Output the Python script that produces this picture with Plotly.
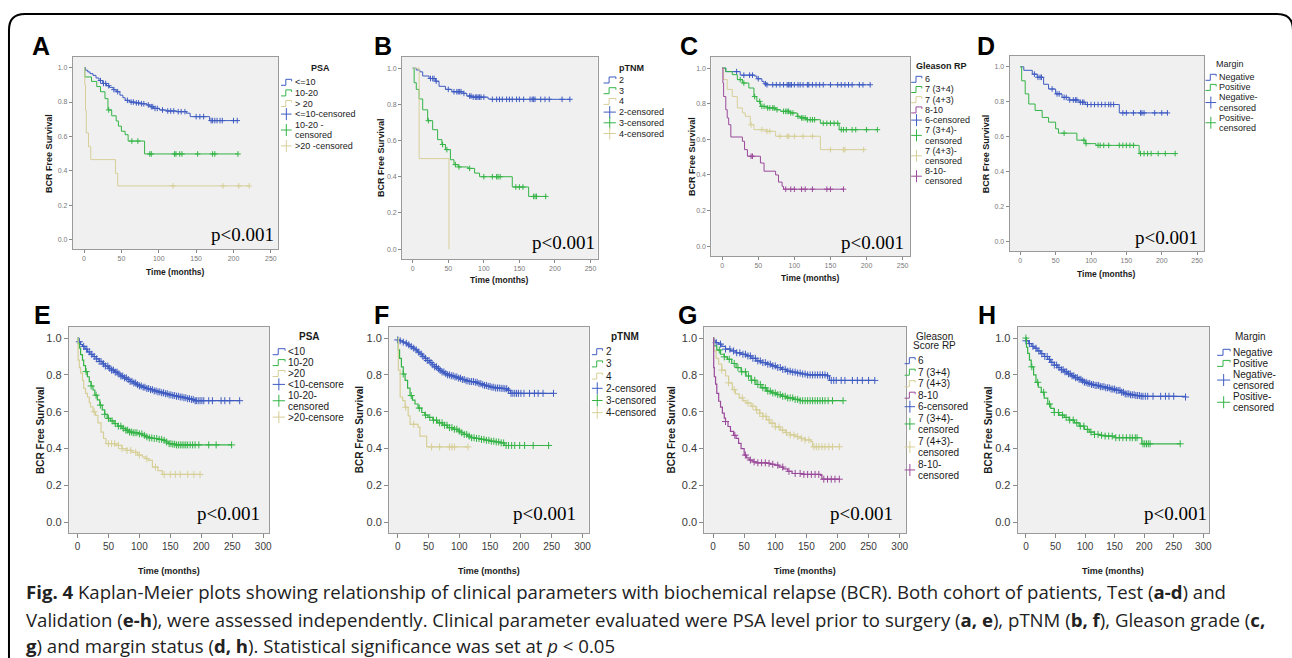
import plotly.graph_objects as go

W, H = 1292, 658

# ================= DATA =================
# ---- A: Test cohort, PSA ----
A_le10_t = [0, 2, 5, 8, 12, 16, 20, 25, 30, 34, 39, 43, 48, 52, 55, 61, 68, 75, 84, 88, 93, 101, 110, 124, 137, 142, 168, 205]
A_le10_s = [1.0, .985, .975, .965, .955, .94, .925, .908, .895, .885, .872, .86, .84, .825, .81, .80, .795, .79, .783, .773, .763, .754, .748, .744, .735, .715, .692, .692]
A_le10_c = [22, 26, 29, 33, 40, 45, 58, 63, 66, 70, 73, 77, 80, 86, 90, 92, 95, 98, 105, 112, 116, 120, 126, 130, 135, 150, 155, 160, 170, 172, 175, 178, 182, 185, 200, 205]
A_1020_t = [0, 1, 10, 17, 22, 28, 32, 37, 43, 46, 50, 55, 59, 81, 206]
A_1020_s = [1.0, .946, .92, .89, .86, .82, .754, .72, .69, .66, .63, .61, .573, .498, .498]
A_1020_c = [33, 64, 72, 88, 90, 121, 123, 128, 131, 152, 172, 175, 206]
A_gt20_t = [0, 1, 2, 3, 6, 9, 42, 45, 221]
A_gt20_s = [1.0, .90, .75, .62, .54, .465, .385, .312, .312]
A_gt20_c = [119, 186, 207, 221]

# ---- B: Test cohort, pTNM ----
B_2_t = [0, 5, 10, 14, 23, 32, 37, 46, 55, 71, 76, 83, 106, 110, 221]
B_2_s = [1.0, .99, .98, .957, .943, .928, .90, .883, .87, .861, .846, .84, .83, .828, .828]
B_2_c = [25, 28, 30, 33, 50, 58, 62, 64, 66, 68, 72, 80, 82, 85, 88, 90, 92, 94, 96, 100, 112, 118, 122, 126, 132, 136, 140, 146, 150, 156, 165, 168, 170, 172, 180, 186, 192, 210, 221]
B_3_t = [0, 2, 5, 9, 14, 21, 28, 35, 41, 46, 53, 58, 64, 78, 87, 94, 140, 163, 187]
B_3_s = [1.0, .92, .883, .83, .77, .71, .66, .605, .578, .55, .494, .467, .454, .446, .42, .40, .343, .291, .291]
B_3_c = [22, 42, 48, 60, 65, 80, 100, 112, 118, 120, 123, 145, 150, 155, 170, 172, 174, 187]
B_4_t = [0, 9, 51]
B_4_s = [1.0, .50, 0.0]
B_4_c = []

# ---- C: Test cohort, Gleason RP ----
C_6_t = [0, 5, 25, 45, 48, 55, 58, 62, 205]
C_6_s = [1.0, .98, .96, .955, .94, .925, .912, .906, .906]
C_6_c = [20, 30, 38, 42, 50, 60, 62, 70, 75, 80, 85, 90, 92, 94, 96, 100, 105, 108, 112, 118, 120, 125, 130, 135, 140, 150, 160, 165, 170, 175, 180, 190, 195, 205]
C_34_t = [0, 5, 14, 21, 28, 37, 44, 48, 53, 62, 74, 81, 94, 104, 108, 117, 136, 162, 215]
C_34_s = [1.0, .98, .963, .935, .916, .888, .84, .813, .785, .776, .766, .757, .748, .729, .72, .71, .69, .654, .654]
C_34_c = [25, 30, 45, 52, 55, 58, 63, 66, 70, 72, 76, 85, 88, 90, 92, 95, 98, 105, 110, 112, 115, 118, 122, 125, 128, 140, 145, 150, 155, 160, 165, 168, 172, 180, 185, 200, 215]
C_43_t = [0, 2, 7, 14, 21, 28, 32, 39, 44, 62, 74, 136, 196]
C_43_s = [1.0, .935, .88, .84, .776, .748, .729, .682, .654, .645, .617, .542, .542]
C_43_c = [40, 55, 62, 66, 80, 90, 92, 100, 112, 125, 150, 168, 170, 196]
C_810_t = [0, 1, 2, 5, 7, 9, 12, 28, 31, 35, 53, 58, 74, 78, 83, 85, 168]
C_810_s = [1.0, .916, .84, .766, .72, .682, .613, .589, .542, .505, .467, .421, .40, .36, .336, .32, .32]
C_810_c = [40, 42, 88, 95, 100, 110, 115, 125, 145, 150, 168]

# ---- D: Test cohort, Margin ----
D_neg_t = [0, 5, 17, 24, 33, 40, 50, 59, 69, 83, 92, 140, 208]
D_neg_s = [1.0, .98, .958, .94, .90, .873, .845, .825, .81, .797, .784, .736, .736]
D_neg_c = [20, 25, 28, 30, 45, 52, 55, 62, 65, 70, 75, 78, 80, 85, 88, 90, 95, 100, 105, 110, 115, 120, 125, 128, 132, 145, 150, 160, 170, 172, 175, 190, 200, 208]
D_pos_t = [0, 2, 7, 12, 21, 31, 40, 50, 54, 80, 92, 107, 168, 219]
D_pos_s = [1.0, .92, .845, .787, .75, .71, .683, .645, .62, .58, .56, .55, .503, .503]
D_pos_c = [62, 90, 93, 110, 113, 118, 125, 140, 145, 150, 155, 160, 170, 175, 180, 185, 195, 205, 219]

# ---- E: Validation cohort, PSA ----
E_lt10_t = [0, 2, 5, 8, 12, 16, 20, 25, 30, 35, 40, 45, 50, 55, 60, 65, 70, 75, 80, 85, 90, 95, 100, 106, 112, 118, 124, 130, 136, 142, 148, 154, 160, 166, 172, 178, 183, 188, 262]
E_lt10_s = [1.0, .98, .965, .955, .94, .925, .912, .90, .887, .873, .86, .848, .836, .826, .815, .805, .794, .784, .775, .765, .756, .747, .74, .733, .726, .72, .713, .708, .703, .698, .692, .688, .684, .68, .676, .671, .667, .66, .66]
E_lt10_c = [3, 10, 15, 19, 23, 27, 31, 35, 38, 42, 45, 49, 52, 55, 58, 61, 64, 67, 70, 73, 76, 79, 82, 85, 88, 91, 94, 97, 100, 103, 106, 109, 112, 115, 118, 121, 124, 127, 130, 133, 136, 139, 142, 145, 148, 151, 154, 157, 160, 163, 166, 169, 172, 175, 178, 181, 184, 187, 190, 192, 195, 198, 201, 204, 212, 218, 232, 238, 246, 262]
E_1020_t = [0, 1, 3, 5, 8, 10, 13, 16, 19, 22, 25, 28, 32, 36, 40, 44, 48, 53, 59, 65, 72, 78, 83, 90, 99, 105, 110, 116, 121, 130, 137, 143, 147, 152, 158, 249]
E_1020_s = [1.0, .97, .945, .91, .88, .85, .818, .79, .764, .74, .718, .69, .664, .636, .61, .586, .564, .55, .536, .522, .51, .50, .49, .486, .48, .472, .464, .458, .455, .45, .445, .436, .427, .424, .42, .42]
E_1020_c = [14, 22, 30, 37, 44, 50, 56, 61, 66, 70, 74, 78, 81, 84, 87, 90, 93, 96, 100, 104, 108, 112, 116, 120, 124, 128, 132, 136, 140, 144, 148, 151, 154, 157, 160, 163, 166, 169, 172, 175, 178, 182, 186, 190, 196, 212, 224, 249]
E_gt20_t = [0, 1, 3, 5, 8, 10, 13, 16, 19, 21, 25, 29, 33, 38, 42, 46, 62, 72, 80, 88, 97, 105, 110, 115, 121, 130, 137, 198]
E_gt20_s = [1.0, .88, .84, .81, .77, .727, .70, .68, .65, .627, .60, .58, .54, .49, .455, .427, .418, .40, .39, .38, .365, .355, .345, .336, .30, .28, .26, .26]
E_gt20_c = [27, 50, 55, 60, 66, 72, 80, 86, 94, 100, 112, 126, 140, 150, 158, 166, 178, 188, 198]

# ---- F: Validation cohort, pTNM ----
F_2_t = [0, 4, 8, 12, 16, 20, 24, 28, 32, 36, 40, 44, 48, 52, 56, 60, 64, 68, 72, 76, 80, 86, 92, 98, 104, 110, 116, 124, 130, 136, 140, 146, 152, 158, 166, 172, 178, 180, 183, 253]
F_2_s = [.99, .985, .978, .972, .963, .954, .945, .936, .924, .913, .901, .89, .878, .867, .855, .844, .834, .825, .816, .807, .80, .795, .789, .782, .775, .768, .764, .76, .753, .747, .743, .738, .733, .729, .727, .725, .72, .716, .70, .70]
F_2_c = [0, 4, 9, 14, 18, 22, 26, 30, 34, 38, 41, 45, 48, 51, 54, 57, 60, 63, 66, 69, 72, 75, 78, 81, 84, 87, 90, 93, 96, 99, 102, 105, 108, 111, 114, 117, 120, 123, 126, 129, 132, 135, 138, 141, 144, 147, 150, 153, 156, 159, 162, 165, 168, 171, 174, 177, 180, 184, 187, 190, 193, 196, 200, 205, 214, 222, 228, 236, 253]
F_3_t = [0, 1, 3, 6, 9, 12, 16, 20, 24, 28, 33, 39, 44, 49, 57, 65, 73, 81, 90, 98, 103, 108, 113, 119, 127, 135, 143, 151, 159, 167, 173, 245]
F_3_s = [1.0, .936, .89, .844, .805, .77, .728, .688, .663, .642, .62, .596, .582, .569, .554, .54, .527, .514, .505, .495, .486, .477, .468, .459, .455, .45, .445, .44, .436, .431, .417, .417]
F_3_c = [9, 22, 35, 45, 52, 58, 63, 68, 72, 76, 80, 84, 88, 92, 96, 100, 104, 108, 112, 116, 120, 124, 128, 132, 136, 140, 144, 148, 152, 156, 160, 164, 168, 172, 176, 180, 185, 190, 198, 206, 220, 245]
F_4_t = [0, 1, 4, 8, 12, 17, 20, 33, 36, 47, 114]
F_4_s = [1.0, .826, .68, .66, .624, .578, .532, .517, .468, .409, .409]
F_4_c = [13, 26, 55, 68, 84, 88, 92, 114]

# ---- G: Validation cohort, Gleason Score RP ----
G_6_t = [0, 1, 5, 9, 14, 20, 28, 37, 45, 53, 61, 69, 77, 86, 94, 102, 110, 118, 126, 135, 143, 151, 184, 187, 260]
G_6_s = [1.0, .985, .975, .967, .955, .94, .93, .92, .912, .903, .89, .876, .867, .858, .849, .84, .83, .82, .815, .81, .805, .80, .795, .77, .77]
G_6_c = [5, 12, 20, 27, 33, 38, 43, 48, 52, 56, 60, 64, 68, 72, 76, 80, 84, 88, 92, 96, 100, 104, 108, 112, 116, 120, 124, 128, 132, 136, 140, 144, 148, 152, 156, 160, 164, 168, 172, 176, 180, 184, 190, 194, 198, 206, 212, 224, 232, 240, 250, 260]
G_34_t = [0, 1, 6, 12, 18, 23, 30, 37, 45, 53, 61, 69, 77, 86, 94, 102, 110, 118, 129, 140, 209]
G_34_s = [1.0, .958, .935, .912, .898, .885, .862, .84, .817, .794, .771, .748, .73, .712, .702, .693, .684, .675, .667, .66, .66]
G_34_c = [10, 18, 26, 34, 40, 46, 52, 57, 62, 67, 72, 76, 80, 84, 88, 92, 96, 100, 104, 108, 112, 116, 120, 124, 128, 132, 136, 140, 144, 148, 152, 156, 160, 164, 168, 172, 176, 180, 185, 192, 209]
G_43_t = [0, 1, 5, 9, 14, 20, 25, 31, 36, 42, 48, 53, 61, 69, 75, 80, 86, 91, 100, 108, 116, 124, 132, 140, 148, 157, 160, 203]
G_43_s = [1.0, .93, .89, .858, .826, .794, .757, .72, .697, .675, .66, .648, .63, .61, .592, .575, .556, .538, .518, .50, .487, .474, .465, .456, .447, .438, .41, .41]
G_43_c = [14, 25, 34, 47, 56, 64, 70, 75, 80, 85, 90, 95, 100, 106, 112, 118, 124, 130, 136, 142, 148, 154, 162, 166, 170, 175, 180, 186, 192, 203]
G_810_t = [0, 1, 2, 4, 6, 9, 12, 15, 18, 20, 24, 28, 33, 37, 41, 45, 50, 54, 58, 64, 69, 86, 92, 99, 106, 113, 120, 127, 146, 173, 175, 203]
G_810_s = [1.0, .84, .79, .75, .70, .657, .625, .593, .565, .547, .52, .493, .472, .456, .428, .40, .365, .35, .338, .328, .323, .32, .315, .31, .30, .29, .277, .265, .26, .255, .234, .234]
G_810_c = [20, 35, 52, 60, 66, 72, 78, 84, 90, 96, 104, 112, 122, 132, 140, 146, 152, 158, 164, 170, 178, 184, 190, 196, 203]

# ---- H: Validation cohort, Margin ----
H_neg_t = [0, 5, 10, 14, 19, 25, 31, 37, 42, 48, 54, 60, 65, 71, 77, 82, 88, 94, 99, 105, 111, 116, 125, 134, 142, 151, 160, 168, 176, 185, 195, 270]
H_neg_s = [.985, .97, .955, .945, .93, .915, .90, .884, .868, .853, .84, .828, .817, .806, .795, .785, .776, .768, .76, .754, .748, .743, .736, .73, .723, .716, .706, .697, .692, .688, .684, .68]
H_neg_c = [0, 6, 12, 17, 22, 27, 32, 36, 40, 44, 48, 52, 56, 60, 63, 66, 69, 72, 75, 78, 81, 84, 87, 90, 93, 96, 99, 102, 105, 108, 111, 114, 117, 120, 123, 126, 129, 132, 135, 138, 141, 144, 147, 150, 153, 156, 159, 162, 165, 168, 171, 174, 177, 180, 183, 186, 189, 192, 195, 198, 202, 206, 215, 228, 236, 242, 250, 270]
H_pos_t = [0, 1, 3, 6, 9, 13, 17, 21, 26, 31, 37, 42, 48, 56, 65, 73, 82, 90, 99, 107, 116, 125, 134, 151, 193, 196, 261]
H_pos_s = [1.0, .95, .917, .88, .844, .80, .76, .733, .706, .674, .642, .618, .596, .582, .569, .555, .54, .522, .504, .49, .477, .472, .468, .459, .459, .426, .426]
H_pos_c = [0, 10, 20, 30, 40, 48, 55, 62, 68, 74, 80, 86, 92, 98, 104, 110, 116, 122, 128, 134, 140, 146, 152, 158, 164, 170, 176, 180, 185, 188, 198, 201, 204, 207, 210, 261]

X_TICKS_TOP = [0, 50, 100, 150, 200, 250]
X_TICKS_BOT = [0, 50, 100, 150, 200, 250, 300]
Y_TICKS = [0.0, 0.2, 0.4, 0.6, 0.8, 1.0]

# ================= STYLE / LAYOUT =================
BLUE, GREEN, BEIGE, PURPLE = '#3F5CC2', '#34B446', '#D6CF98', '#9A4A9A'
SANS = 'Arial, Liberation Sans, sans-serif'
SERIF = 'Times New Roman, Liberation Serif, serif'


def fx(x):
    return x / W


def fy(y):
    return 1 - y / H


def step_at(ts, ss, c):
    val = ss[0]
    for t, s in zip(ts, ss):
        if t <= c:
            val = s
    return val


panels = [
    dict(letter='A', lpos=(30, 46), box=(73, 279, 57, 249), row=0, xt=272, yt=49, p=(277, 234),
         curves=[(A_le10_t, A_le10_s, A_le10_c, BLUE), (A_1020_t, A_1020_s, A_1020_c, GREEN), (A_gt20_t, A_gt20_s, A_gt20_c, BEIGE)],
         ltitle=[('<b>PSA</b>', 321.7, 68.3)], lstart=82.3, lstep=10.6, gx=281.7, tx=293.3,
         entries=[(['&lt;=10'], 'l', BLUE), (['10-20'], 'l', GREEN), (['&gt; 20'], 'l', BEIGE),
                  (['&lt;=10-censored'], 'c', BLUE), (['10-20 -', 'censored'], 'c', GREEN), (['&gt;20 -censored'], 'c', BEIGE)]),
    dict(letter='B', lpos=(373, 46), box=(403, 599, 57, 259), row=0, xt=280, yt=382, p=(598, 243),
         curves=[(B_2_t, B_2_s, B_2_c, BLUE), (B_3_t, B_3_s, B_3_c, GREEN), (B_4_t, B_4_s, B_4_c, BEIGE)],
         ltitle=[('<b>pTNM</b>', 633.3, 68.3)], lstart=80, lstep=10.7, gx=605, tx=618.3,
         entries=[(['2'], 'l', BLUE), (['3'], 'l', GREEN), (['4'], 'l', BEIGE),
                  (['2-censored'], 'c', BLUE), (['3-censored'], 'c', GREEN), (['4-censored'], 'c', BEIGE)]),
    dict(letter='C', lpos=(680, 46), box=(713, 912, 57, 256), row=0, xt=278, yt=693, p=(908, 243),
         curves=[(C_6_t, C_6_s, C_6_c, BLUE), (C_34_t, C_34_s, C_34_c, GREEN), (C_43_t, C_43_s, C_43_c, BEIGE), (C_810_t, C_810_s, C_810_c, PURPLE)],
         ltitle=[('<b>Gleason RP</b>', 943.3, 65.7)], lstart=79.3, lstep=10.2, gx=913.3, tx=925,
         entries=[(['6'], 'l', BLUE), (['7 (3+4)'], 'l', GREEN), (['7 (4+3)'], 'l', BEIGE), (['8-10'], 'l', PURPLE),
                  (['6-censored'], 'c', BLUE), (['7 (3+4)-', 'censored'], 'c', GREEN), (['7 (4+3)-', 'censored'], 'c', BEIGE),
                  (['8-10-', 'censored'], 'c', PURPLE)]),
    dict(letter='D', lpos=(977, 46), box=(1012, 1207, 56, 251), row=0, xt=274, yt=988, p=(1203, 238),
         curves=[(D_neg_t, D_neg_s, D_neg_c, BLUE), (D_pos_t, D_pos_s, D_pos_c, GREEN)],
         ltitle=[('Margin', 1233.3, 64)], lstart=77.3, lstep=10.1, gx=1208.3, tx=1220,
         entries=[(['Negative'], 'l', BLUE), (['Positive'], 'l', GREEN),
                  (['Negative-', 'censored'], 'c', BLUE), (['Positive-', 'censored'], 'c', GREEN)]),
    dict(letter='E', lpos=(32, 315), box=(69, 270, 327, 533), row=1, xt=571, yt=40, p=(263, 513),
         curves=[(E_lt10_t, E_lt10_s, E_lt10_c, BLUE), (E_1020_t, E_1020_s, E_1020_c, GREEN), (E_gt20_t, E_gt20_s, E_gt20_c, BEIGE)],
         ltitle=[('<b>PSA</b>', 310, 336.7)], lstart=351.7, lstep=10.9, gx=273.3, tx=286.7,
         entries=[(['&lt;10'], 'l', BLUE), (['10-20'], 'l', GREEN), (['&gt;20'], 'l', BEIGE),
                  (['&lt;10-censore'], 'c', BLUE), (['10-20-', 'censored'], 'c', GREEN), (['&gt;20-censore'], 'c', BEIGE)]),
    dict(letter='F', lpos=(373, 315), box=(390, 590, 327, 533), row=1, xt=571, yt=360, p=(579, 513),
         curves=[(F_2_t, F_2_s, F_2_c, BLUE), (F_3_t, F_3_s, F_3_c, GREEN), (F_4_t, F_4_s, F_4_c, BEIGE)],
         ltitle=[('<b>pTNM</b>', 626.7, 336.7)], lstart=351.7, lstep=12.2, gx=593.3, tx=605,
         entries=[(['2'], 'l', BLUE), (['3'], 'l', GREEN), (['4'], 'l', BEIGE),
                  (['2-censored'], 'c', BLUE), (['3-censored'], 'c', GREEN), (['4-censored'], 'c', BEIGE)]),
    dict(letter='G', lpos=(678, 315), box=(706, 908, 327, 533), row=1, xt=571, yt=673, p=(897, 513),
         curves=[(G_6_t, G_6_s, G_6_c, BLUE), (G_34_t, G_34_s, G_34_c, GREEN), (G_43_t, G_43_s, G_43_c, BEIGE), (G_810_t, G_810_s, G_810_c, PURPLE)],
         ltitle=[('Gleason', 936.7, 336), ('Score RP', 936.7, 345.7)], lstart=360.7, lstep=11.5, gx=906.7, tx=918.3,
         entries=[(['6'], 'l', BLUE), (['7 (3+4)'], 'l', GREEN), (['7 (4+3)'], 'l', BEIGE), (['8-10'], 'l', PURPLE),
                  (['6-censored'], 'c', BLUE), (['7 (3+4)-', 'censored'], 'c', GREEN), (['7 (4+3)-', 'censored'], 'c', BEIGE),
                  (['8-10-', 'censored'], 'c', PURPLE)]),
    dict(letter='H', lpos=(978, 315), box=(1020, 1212, 327, 533), row=1, xt=571, yt=990, p=(1212, 513),
         curves=[(H_neg_t, H_neg_s, H_neg_c, BLUE), (H_pos_t, H_pos_s, H_pos_c, GREEN)],
         ltitle=[('Margin', 1253.3, 336.7)], lstart=352.3, lstep=11.1, gx=1220, tx=1234,
         entries=[(['Negative'], 'l', BLUE), (['Positive'], 'l', GREEN),
                  (['Negative-', 'censored'], 'c', BLUE), (['Positive-', 'censored'], 'c', GREEN)]),
]

fig = go.Figure()
annotations = []
shapes = []
layout_axes = {}

for i, pn in enumerate(panels, 1):
    xs = 'x' if i == 1 else f'x{i}'
    ys = 'y' if i == 1 else f'y{i}'
    top = pn['row'] == 0
    lw = 1.0 if top else 1.2
    msize = 4 if top else 5
    for ts, ss, cs, col in pn['curves']:
        fig.add_trace(go.Scatter(x=ts, y=ss, mode='lines', line=dict(color=col, width=lw, shape='hv'),
                                 xaxis=xs, yaxis=ys, showlegend=False, hoverinfo='skip'))
        if cs:
            fig.add_trace(go.Scatter(x=cs, y=[step_at(ts, ss, c) for c in cs], mode='markers',
                                     marker=dict(symbol='cross-thin', size=msize, line=dict(color=col, width=1)),
                                     xaxis=xs, yaxis=ys, showlegend=False, hoverinfo='skip'))
    x0, x1, y0, y1 = pn['box']
    tickc = '#7a7a7a' if top else '#3a3a3a'
    xk = 'xaxis' if i == 1 else f'xaxis{i}'
    yk = 'yaxis' if i == 1 else f'yaxis{i}'
    layout_axes[xk] = dict(domain=[fx(x0), fx(x1)], anchor=ys,
                           range=[-15, 260] if top else [-14, 310],
                           tickvals=X_TICKS_TOP if top else X_TICKS_BOT,
                           tickfont=dict(family=SANS, size=7 if top else 10, color=tickc),
                           ticks='outside', ticklen=3 if top else 4, tickcolor='#8a8a8a',
                           showline=True, mirror=True, linecolor='#9a9a9a', linewidth=1,
                           showgrid=False, zeroline=False, fixedrange=True)
    layout_axes[yk] = dict(domain=[fy(y1), fy(y0)], anchor=xs,
                           range=[-0.055, 1.062] if top else [-0.058, 1.06],
                           tickvals=Y_TICKS, tickformat='.1f',
                           tickfont=dict(family=SANS, size=7 if top else 11, color=tickc),
                           ticks='outside', ticklen=3 if top else 4, tickcolor='#8a8a8a',
                           showline=True, mirror=True, linecolor='#9a9a9a', linewidth=1,
                           showgrid=False, zeroline=False, fixedrange=True)

    # panel letter
    annotations.append(dict(text=f'<b>{pn["letter"]}</b>', x=fx(pn['lpos'][0]), y=fy(pn['lpos'][1]),
                            xref='paper', yref='paper', xanchor='left', yanchor='middle', showarrow=False,
                            font=dict(family=SANS, size=25, color='black')))
    # axis titles
    annotations.append(dict(text='<b>BCR Free Survival</b>', x=fx(pn['yt']), y=fy((y0 + y1) / 2),
                            xref='paper', yref='paper', textangle=-90, xanchor='center', yanchor='middle',
                            showarrow=False, font=dict(family=SANS, size=9 if top else 10, color='#1a1a1a')))
    annotations.append(dict(text='<b>Time (months)</b>', x=fx((x0 + x1) / 2), y=fy(pn['xt']),
                            xref='paper', yref='paper', xanchor='center', yanchor='middle',
                            showarrow=False, font=dict(family=SANS, size=8.5 if top else 9, color='#1a1a1a')))
    # p value
    annotations.append(dict(text='p&lt;0.001', x=fx(pn['p'][0]), y=fy(pn['p'][1]), xref='paper', yref='paper',
                            xanchor='right', yanchor='middle', showarrow=False,
                            font=dict(family=SERIF, size=19, color='black')))
    # legend
    lfs = 9 if top else 10
    for txt, lx, ly in pn['ltitle']:
        annotations.append(dict(text=txt, x=fx(lx), y=fy(ly), xref='paper', yref='paper', xanchor='center',
                                yanchor='middle', showarrow=False, font=dict(family=SANS, size=lfs, color='#1a1a1a')))
    line_idx = 0
    for lines, kind, col in pn['entries']:
        ys_ = [pn['lstart'] + (line_idx + k) * pn['lstep'] for k in range(len(lines))]
        for t, yy in zip(lines, ys_):
            annotations.append(dict(text=t, x=fx(pn['tx']), y=fy(yy), xref='paper', yref='paper',
                                    xanchor='left', yanchor='middle', showarrow=False,
                                    font=dict(family=SANS, size=lfs, color='#1a1a1a')))
        gy = sum(ys_) / len(ys_)
        gx = pn['gx']
        gw = pn['tx'] - gx - 1
        if kind == 'l':
            pts = [(gx, gy + 3), (gx + gw * 0.45, gy + 3), (gx + gw * 0.45, gy - 3), (gx + gw, gy - 3), (gx + gw, gy - 1)]
            path = 'M ' + ' L '.join(f'{fx(a):.5f},{fy(b):.5f}' for a, b in pts)
            shapes.append(dict(type='path', path=path, xref='paper', yref='paper', line=dict(color=col, width=1)))
        else:
            shapes.append(dict(type='line', x0=fx(gx), x1=fx(gx + gw), y0=fy(gy), y1=fy(gy), xref='paper',
                               yref='paper', line=dict(color=col, width=1)))
            shapes.append(dict(type='line', x0=fx(gx + gw / 2), x1=fx(gx + gw / 2), y0=fy(gy - 6), y1=fy(gy + 6),
                               xref='paper', yref='paper', line=dict(color=col, width=1)))
        line_idx += len(lines)

# frame around figure
fpts = 'M {},{} L {},{} Q {},{} {},{} L {},{} Q {},{} {},{} L {},{}'.format(
    fx(9), fy(660), fx(9), fy(30), fx(9), fy(14), fx(25), fy(14), fx(1280), fy(14), fx(1296), fy(14),
    fx(1296), fy(30), fx(1296), fy(660))
shapes.append(dict(type='path', path=fpts, xref='paper', yref='paper', line=dict(color='black', width=2)))

# caption
CAP = 'Open Sans, Noto Sans, sans-serif'
cap_lines = [
    ('<b>Fig. 4</b> Kaplan-Meier plots showing relationship of clinical parameters with biochemical relapse (BCR). '
     'Both cohort of patients, Test (<b>a-d</b>) and', 591),
    ('Validation (<b>e-h</b>), were assessed independently. Clinical parameter evaluated were PSA level prior to '
     'surgery (<b>a, e</b>), pTNM (<b>b, f</b>), Gleason grade (<b>c,</b>', 619),
    ('<b>g</b>) and margin status (<b>d, h</b>). Statistical significance was set at <i>p</i> &lt; 0.05', 645),
]
for t, yy in cap_lines:
    annotations.append(dict(text=t, x=fx(24), y=fy(yy), xref='paper', yref='paper', xanchor='left',
                            yanchor='middle', showarrow=False, font=dict(family=CAP, size=18.6, color='#222222')))

fig.update_layout(width=W, height=H, autosize=False, margin=dict(l=0, r=0, t=0, b=0),
                  paper_bgcolor='white', plot_bgcolor='#F0F0F0', showlegend=False,
                  annotations=annotations, shapes=shapes, **layout_axes)

fig.write_html('out.html', config={'displayModeBar': False},
               post_script="document.body.style.margin='0px';document.body.style.overflow='hidden';")
